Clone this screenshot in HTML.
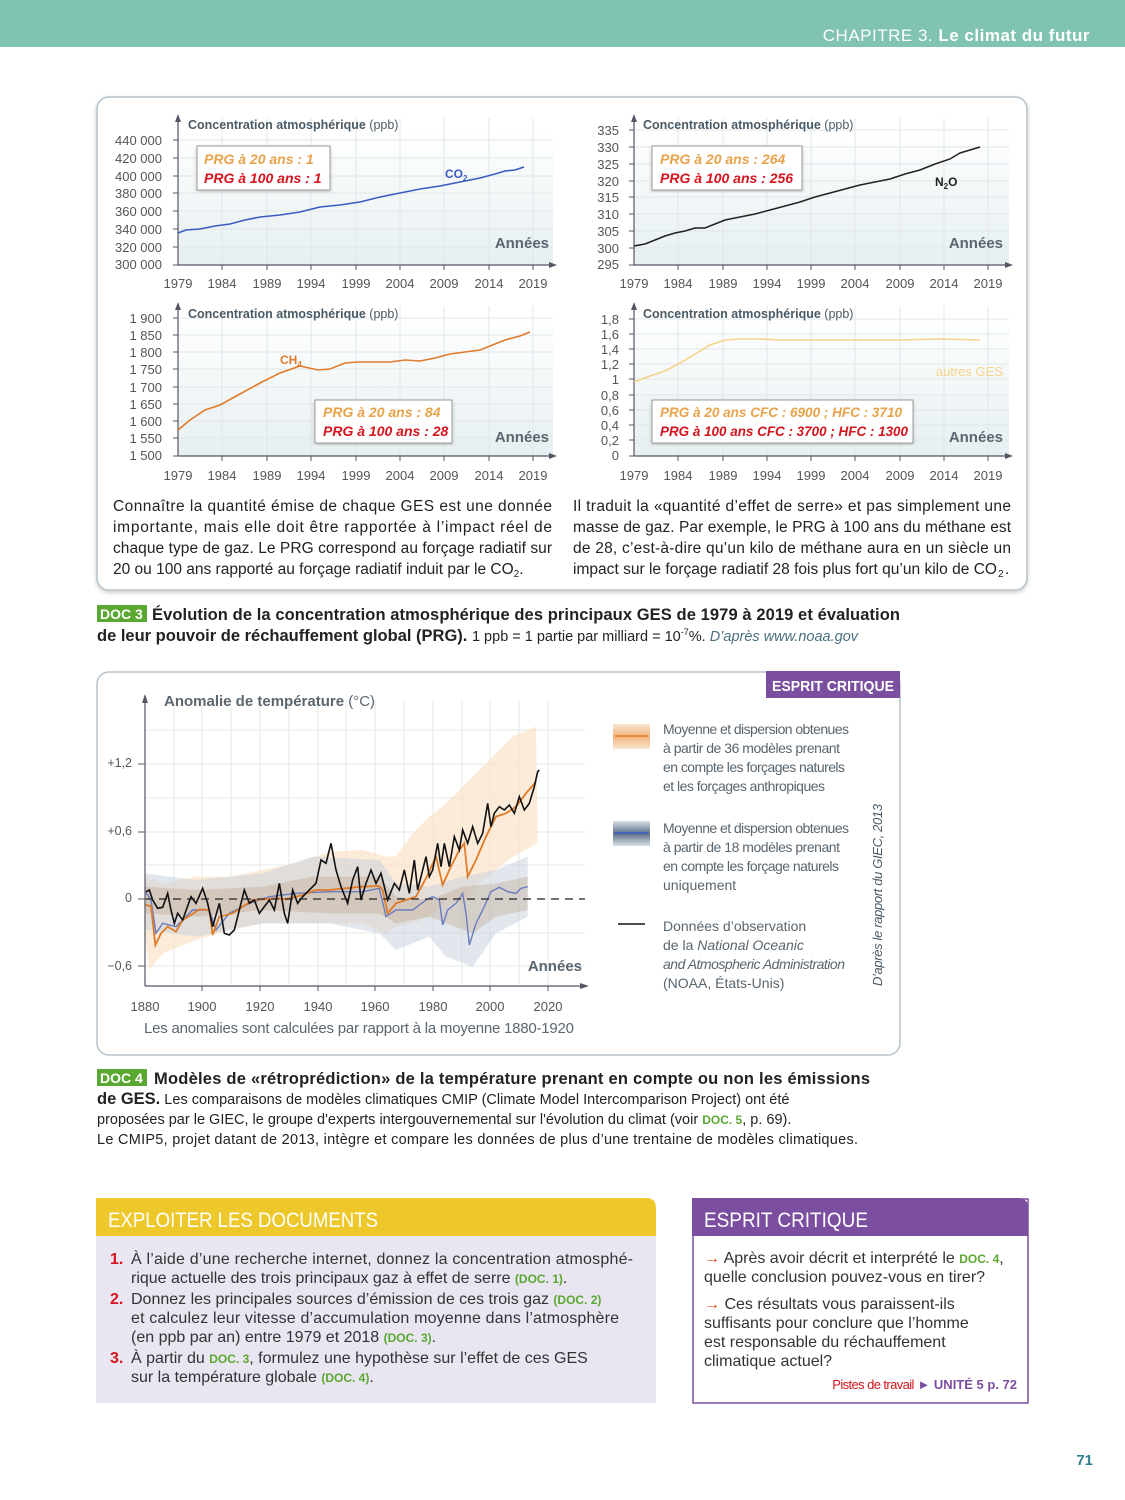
<!DOCTYPE html>
<html><head><meta charset="utf-8"><style>
html,body{margin:0;padding:0;background:#fff}
svg{display:block}
text{font-family:"Liberation Sans",sans-serif}
.yl{font-size:13px;fill:#555;text-anchor:end}
.xl{font-size:13px;fill:#555;text-anchor:middle}
.ct{font-size:12.5px;fill:#4a5a66;font-weight:bold}
.an{font-size:15px;fill:#5a6670;font-weight:bold;text-anchor:end}
.p1{font-size:14px;font-style:italic;font-weight:bold;fill:#e8a24a}
.p2{font-size:14px;font-style:italic;font-weight:bold;fill:#d4141e}
.para{font-size:15.5px;fill:#222}
.lg{font-size:14px;fill:#59656e}
.q{font-size:16px;fill:#333}
.g{fill:#5aa832;font-weight:bold;font-size:12px}
</style></head><body>
<svg width="1125" height="1500" viewBox="0 0 1125 1500" xmlns="http://www.w3.org/2000/svg">
<defs>
<linearGradient id="bg" x1="0" y1="0" x2="0" y2="1"><stop offset="0" stop-color="#fff"/><stop offset="1" stop-color="#e6eff1"/></linearGradient>
<linearGradient id="lo" x1="0" y1="0" x2="0" y2="1"><stop offset="0" stop-color="#fbe6d0"/><stop offset=".5" stop-color="#f2b47c"/><stop offset="1" stop-color="#fbe6d0"/></linearGradient>
<linearGradient id="lb" x1="0" y1="0" x2="0" y2="1"><stop offset="0" stop-color="#d8e0e8"/><stop offset=".5" stop-color="#5c7088"/><stop offset="1" stop-color="#d8e0e8"/></linearGradient>
<filter id="sh" x="-5%" y="-5%" width="110%" height="110%"><feDropShadow dx="0" dy="2" stdDeviation="2" flood-color="#999" flood-opacity=".5"/></filter>
</defs>
<rect x="0" y="0" width="1125" height="47" fill="#7fc3b0"/>
<text x="1090" y="41" text-anchor="end" style="font-size:17px;fill:#fff;letter-spacing:.5px">CHAPITRE 3. <tspan font-weight="bold">Le climat du futur</tspan></text>

<rect x="97" y="97" width="930" height="493" rx="12" fill="#fff" stroke="#b8c4cc" stroke-width="1.5" filter="url(#sh)"/>

<!-- TL chart -->
<g>
<rect x="178" y="130" width="375" height="135" fill="url(#bg)"/>
<g stroke="#e2e6e8" stroke-width="1">
<path d="M222 118V265M267 118V265M311 118V265M356 118V265M400 118V265M444 118V265M489 118V265M533 118V265"/>
<path d="M178 140H553M178 158H553M178 176H553M178 193H553M178 211H553M178 229H553M178 247H553"/>
</g>
<path d="M178 265V118M553 265H178" stroke="#556" stroke-width="1.2" fill="none"/>
<path d="M175 122L178 114L181 122Z M549 262L557 265L549 268Z" fill="#556"/>
<g stroke="#556"><path d="M173 140H178M173 158H178M173 176H178M173 193H178M173 211H178M173 229H178M173 247H178M173 265H178M222 265V270M267 265V270M311 265V270M356 265V270M400 265V270M444 265V270M489 265V270M533 265V270"/></g>
<text class="yl" x="162" y="145">440 000</text><text class="yl" x="162" y="163">420 000</text><text class="yl" x="162" y="181">400 000</text><text class="yl" x="162" y="198">380 000</text><text class="yl" x="162" y="216">360 000</text><text class="yl" x="162" y="234">340 000</text><text class="yl" x="162" y="252">320 000</text><text class="yl" x="162" y="269">300 000</text>
<text class="xl" x="178" y="288">1979</text><text class="xl" x="222" y="288">1984</text><text class="xl" x="267" y="288">1989</text><text class="xl" x="311" y="288">1994</text><text class="xl" x="356" y="288">1999</text><text class="xl" x="400" y="288">2004</text><text class="xl" x="444" y="288">2009</text><text class="xl" x="489" y="288">2014</text><text class="xl" x="533" y="288">2019</text>
<text class="ct" x="188" y="129">Concentration atmosphérique <tspan font-weight="normal">(ppb)</tspan></text>
<path d="M178 233L186 230L200 229L215 226L230 224L245 220L260 217L280 215L300 212L320 207L340 205L360 202L380 197L400 193L420 189L440 186L460 182L480 178L495 174L505 171L515 170L524 167" stroke="#3a5cc0" stroke-width="1.6" fill="none"/>
<text x="445" y="178" style="font-size:12px;font-weight:bold;fill:#3a5cc0">CO<tspan font-size="8" dy="3">2</tspan></text>
<text class="an" x="549" y="248">Années</text>
<rect x="197" y="146" width="133" height="44" fill="#fff" stroke="#999" filter="url(#sh)"/>
<text class="p1" x="204" y="164">PRG à 20 ans : 1</text><text class="p2" x="204" y="183">PRG à 100 ans : 1</text>
</g>

<!-- TR chart -->
<g>
<rect x="634" y="126" width="375" height="139" fill="url(#bg)"/>
<g stroke="#e2e6e8"><path d="M678 118V265M723 118V265M767 118V265M811 118V265M855 118V265M900 118V265M944 118V265M988 118V265"/>
<path d="M634 130H1009M634 147H1009M634 164H1009M634 181H1009M634 197H1009M634 214H1009M634 231H1009M634 248H1009"/></g>
<path d="M634 265V118M1009 265H634" stroke="#556" stroke-width="1.2" fill="none"/>
<path d="M631 122L634 114L637 122Z M1005 262L1013 265L1005 268Z" fill="#556"/>
<g stroke="#556"><path d="M629 130H634M629 147H634M629 164H634M629 181H634M629 197H634M629 214H634M629 231H634M629 248H634M629 265H634M678 265V270M723 265V270M767 265V270M811 265V270M855 265V270M900 265V270M944 265V270M988 265V270"/></g>
<text class="yl" x="619" y="135">335</text><text class="yl" x="619" y="152">330</text><text class="yl" x="619" y="169">325</text><text class="yl" x="619" y="186">320</text><text class="yl" x="619" y="202">315</text><text class="yl" x="619" y="219">310</text><text class="yl" x="619" y="236">305</text><text class="yl" x="619" y="253">300</text><text class="yl" x="619" y="269">295</text>
<text class="xl" x="634" y="288">1979</text><text class="xl" x="678" y="288">1984</text><text class="xl" x="723" y="288">1989</text><text class="xl" x="767" y="288">1994</text><text class="xl" x="811" y="288">1999</text><text class="xl" x="855" y="288">2004</text><text class="xl" x="900" y="288">2009</text><text class="xl" x="944" y="288">2014</text><text class="xl" x="988" y="288">2019</text>
<text class="ct" x="643" y="129">Concentration atmosphérique <tspan font-weight="normal">(ppb)</tspan></text>
<path d="M634 246L645 244L655 240L665 236L675 233L685 231L695 228L705 228L715 224L725 220L740 217L755 214L770 210L785 206L800 202L815 197L830 193L845 189L860 185L875 182L890 179L905 174L920 170L935 164L950 159L960 153L970 150L980 147" stroke="#222" stroke-width="1.5" fill="none"/>
<text x="935" y="186" style="font-size:12px;font-weight:bold;fill:#222">N<tspan font-size="8" dy="3">2</tspan><tspan dy="-3">O</tspan></text>
<text class="an" x="1003" y="248">Années</text>
<rect x="652" y="146" width="150" height="44" fill="#fff" stroke="#999" filter="url(#sh)"/>
<text class="p1" x="660" y="164">PRG à 20 ans : 264</text><text class="p2" x="660" y="183">PRG à 100 ans : 256</text>
</g>

<!-- BL chart -->
<g>
<rect x="178" y="318" width="375" height="138" fill="url(#bg)"/>
<g stroke="#e2e6e8"><path d="M222 306V456M267 306V456M311 306V456M356 306V456M400 306V456M444 306V456M489 306V456M533 306V456"/>
<path d="M178 318H553M178 335H553M178 352H553M178 369H553M178 387H553M178 404H553M178 421H553M178 438H553"/></g>
<path d="M178 456V306M553 456H178" stroke="#556" stroke-width="1.2" fill="none"/>
<path d="M175 310L178 302L181 310Z M549 453L557 456L549 459Z" fill="#556"/>
<g stroke="#556"><path d="M173 318H178M173 335H178M173 352H178M173 369H178M173 387H178M173 404H178M173 421H178M173 438H178M173 456H178M222 456V461M267 456V461M311 456V461M356 456V461M400 456V461M444 456V461M489 456V461M533 456V461"/></g>
<text class="yl" x="162" y="323">1 900</text><text class="yl" x="162" y="340">1 850</text><text class="yl" x="162" y="357">1 800</text><text class="yl" x="162" y="374">1 750</text><text class="yl" x="162" y="392">1 700</text><text class="yl" x="162" y="409">1 650</text><text class="yl" x="162" y="426">1 600</text><text class="yl" x="162" y="443">1 550</text><text class="yl" x="162" y="460">1 500</text>
<text class="xl" x="178" y="480">1979</text><text class="xl" x="222" y="480">1984</text><text class="xl" x="267" y="480">1989</text><text class="xl" x="311" y="480">1994</text><text class="xl" x="356" y="480">1999</text><text class="xl" x="400" y="480">2004</text><text class="xl" x="444" y="480">2009</text><text class="xl" x="489" y="480">2014</text><text class="xl" x="533" y="480">2019</text>
<text class="ct" x="188" y="318">Concentration atmosphérique <tspan font-weight="normal">(ppb)</tspan></text>
<path d="M178 430L190 420L205 410L220 405L240 394L260 383L280 373L300 366L318 370L330 369L345 363L358 362L375 362L390 362L405 360L420 361L435 358L450 354L465 352L480 350L495 344L505 340L520 336L530 332" stroke="#e07b2a" stroke-width="1.6" fill="none"/>
<text x="280" y="364" style="font-size:12px;font-weight:bold;fill:#e07b2a">CH<tspan font-size="8" dy="3">4</tspan></text>
<text class="an" x="549" y="442">Années</text>
<rect x="315" y="400" width="137" height="43" fill="#fff" stroke="#999" filter="url(#sh)"/>
<text class="p1" x="323" y="417">PRG à 20 ans : 84</text><text class="p2" x="323" y="436">PRG à 100 ans : 28</text>
</g>

<!-- BR chart -->
<g>
<rect x="634" y="319" width="375" height="137" fill="url(#bg)"/>
<g stroke="#e2e6e8"><path d="M678 306V456M723 306V456M767 306V456M811 306V456M855 306V456M900 306V456M944 306V456M988 306V456"/>
<path d="M634 319H1009M634 334H1009M634 349H1009M634 364H1009M634 379H1009M634 395H1009M634 410H1009M634 425H1009M634 440H1009"/></g>
<path d="M634 456V306M1009 456H634" stroke="#556" stroke-width="1.2" fill="none"/>
<path d="M631 310L634 302L637 310Z M1005 453L1013 456L1005 459Z" fill="#556"/>
<g stroke="#556"><path d="M629 319H634M629 334H634M629 349H634M629 364H634M629 379H634M629 395H634M629 410H634M629 425H634M629 440H634M629 456H634M678 456V461M723 456V461M767 456V461M811 456V461M855 456V461M900 456V461M944 456V461M988 456V461"/></g>
<text class="yl" x="619" y="324">1,8</text><text class="yl" x="619" y="339">1,6</text><text class="yl" x="619" y="354">1,4</text><text class="yl" x="619" y="369">1,2</text><text class="yl" x="619" y="384">1</text><text class="yl" x="619" y="400">0,8</text><text class="yl" x="619" y="415">0,6</text><text class="yl" x="619" y="430">0,4</text><text class="yl" x="619" y="445">0,2</text><text class="yl" x="619" y="460">0</text>
<text class="xl" x="634" y="480">1979</text><text class="xl" x="678" y="480">1984</text><text class="xl" x="723" y="480">1989</text><text class="xl" x="767" y="480">1994</text><text class="xl" x="811" y="480">1999</text><text class="xl" x="855" y="480">2004</text><text class="xl" x="900" y="480">2009</text><text class="xl" x="944" y="480">2014</text><text class="xl" x="988" y="480">2019</text>
<text class="ct" x="643" y="318">Concentration atmosphérique <tspan font-weight="normal">(ppb)</tspan></text>
<path d="M634 382L650 376L665 371L680 363L695 354L710 345L725 340L740 339L760 339L780 340L830 340L900 340L940 339L980 340" stroke="#f5d48a" stroke-width="1.6" fill="none"/>
<text x="1003" y="376" text-anchor="end" style="font-size:13px;fill:#f5d48a">autres GES</text>
<text class="an" x="1003" y="442">Années</text>
<rect x="652" y="400" width="261" height="43" fill="#fff" stroke="#999" filter="url(#sh)"/>
<text class="p1" x="660" y="417" textLength="242" lengthAdjust="spacingAndGlyphs">PRG à 20 ans CFC : 6900 ; HFC : 3710</text><text class="p2" x="660" y="436" textLength="248" lengthAdjust="spacingAndGlyphs">PRG à 100 ans CFC : 3700 ; HFC : 1300</text>
</g>

<text class="para" x="113" y="511" textLength="439">Connaître la quantité émise de chaque GES est une donnée</text>
<text class="para" x="113" y="532" textLength="439">importante, mais elle doit être rapportée à l’impact réel de</text>
<text class="para" x="113" y="553" textLength="439">chaque type de gaz. Le PRG correspond au forçage radiatif sur</text>
<text class="para" x="113" y="574">20 ou 100 ans rapporté au forçage radiatif induit par le CO<tspan font-size="10" dy="3">2</tspan><tspan dy="-3">.</tspan></text>
<text class="para" x="573" y="511" textLength="438">Il traduit la «quantité d’effet de serre» et pas simplement une</text>
<text class="para" x="573" y="532" textLength="438">masse de gaz. Par exemple, le PRG à 100 ans du méthane est</text>
<text class="para" x="573" y="553" textLength="438">de 28, c’est-à-dire qu’un kilo de méthane aura en un siècle un</text>
<text class="para" x="573" y="574" textLength="424" lengthAdjust="spacingAndGlyphs">impact sur le forçage radiatif 28 fois plus fort qu’un kilo de CO</text><text x="998" y="577" style="font-size:10px;fill:#222">2</text><text class="para" x="1005" y="574">.</text>

<rect x="97" y="605" width="50" height="17" fill="#5aa832"/>
<text x="100" y="619" style="font-size:14px;font-weight:bold;fill:#fff">DOC 3</text>
<text x="152" y="620" textLength="748" style="font-size:16.5px;font-weight:bold;fill:#222">Évolution de la concentration atmosphérique des principaux GES de 1979 à 2019 et évaluation</text>
<text x="97" y="641" style="font-size:16.5px;font-weight:bold;fill:#222">de leur pouvoir de réchauffement global (PRG). <tspan font-weight="normal" font-size="14.5">1 ppb = 1 partie par milliard = 10<tspan font-size="9" dy="-6">-7</tspan><tspan dy="6">%. </tspan><tspan font-style="italic" fill="#4a7080">D’après www.noaa.gov</tspan></tspan></text>

<rect x="97" y="672" width="803" height="383" rx="12" fill="#fff" stroke="#b8c4cc" stroke-width="1.5"/>
<rect x="766" y="671" width="134" height="27" fill="#7b4ea0"/>
<text x="772" y="691" textLength="122" lengthAdjust="spacingAndGlyphs" style="font-size:15px;font-weight:bold;fill:#fff">ESPRIT CRITIQUE</text>

<g>
<g stroke="#e4e8ea"><path d="M174 700V986M202 700V986M231 700V986M260 700V986M289 700V986M318 700V986M346 700V986M375 700V986M404 700V986M433 700V986M462 700V986M490 700V986M519 700V986M548 700V986"/>
<path d="M145 730H585M145 764H585M145 798H585M145 832H585M145 865H585M145 933H585M145 966H585"/></g>
<g transform="translate(96 670) scale(0.33333)">
<path d="M148 620L200 640L300 620L400 620L500 600L600 580L700 545L800 540L870 560L900 560L950 490L1000 440L1050 400L1100 350L1150 300L1200 250L1250 200L1320 170L1325 520L1250 560L1200 600L1150 640L1100 700L1050 690L1000 740L950 760L900 770L870 790L800 760L700 760L600 760L500 760L400 780L300 810L200 850L160 900L148 800Z" fill="#fbe3c8" opacity=".7"/>
<path d="M148 610L300 630L500 610L650 560L850 570L900 640L1000 650L1100 620L1200 600L1295 560L1295 740L1200 790L1130 890L1050 860L1000 800L900 840L850 790L700 760L500 760L300 800L150 780Z" fill="#c4d0dc" opacity=".5"/>
<path d="M148 650L300 660L500 650L650 620L850 620L900 680L1000 690L1100 650L1200 640L1295 620L1295 720L1200 740L1130 790L1050 760L1000 740L900 760L850 730L700 730L500 720L300 740L150 730Z" fill="#b8997a" opacity=".3"/>
<path d="M148 665L165 690L180 790L200 760L240 770L290 720L340 720L360 780L400 730L460 700L520 680L600 670L700 665L800 665L850 655L870 740L900 720L950 720L990 690L1010 680L1030 690L1040 765L1055 720L1080 700L1100 670L1110 730L1120 825L1140 760L1160 720L1185 665L1210 652L1235 665L1260 670L1275 655L1295 650" stroke="#6a7cc0" stroke-width="1.4" fill="none" vector-effect="non-scaling-stroke"/>
<path d="M148 705L165 708L178 825L195 790L215 770L240 785L260 750L285 735L310 718L340 720L350 795L370 740L410 730L440 710L470 690L500 688L540 685L570 688L620 675L660 660L700 660L750 655L800 650L850 648L860 660L875 730L900 700L930 690L960 680L990 625L1020 560L1040 645L1060 600L1090 540L1105 520L1115 620L1140 570L1170 500L1200 440L1230 430L1260 410L1290 370L1320 335" stroke="#e07b2a" stroke-width="1.8" fill="none" vector-effect="non-scaling-stroke"/>
<path d="M150 665L160 660L170 690L185 715L200 712L215 670L225 720L235 760L245 730L260 750L285 680L300 700L320 655L335 700L350 770L370 700L385 790L400 795L415 780L430 720L445 660L460 700L475 690L490 730L505 710L520 690L535 720L550 640L565 730L575 760L590 660L605 700L620 680L640 660L660 640L675 570L690 580L705 520L720 600L735 650L755 700L770 630L785 590L795 690L810 640L825 600L840 640L855 610L875 690L895 640L910 660L925 600L940 670L955 570L965 660L975 620L990 560L1000 620L1010 600L1025 520L1035 590L1045 520L1060 590L1075 500L1090 540L1100 480L1115 520L1130 470L1145 520L1160 490L1175 400L1185 470L1195 430L1210 410L1225 420L1240 405L1255 430L1270 380L1285 420L1300 400L1315 350L1325 305L1330 300" stroke="#111" stroke-width="1.6" fill="none" vector-effect="non-scaling-stroke"/>
</g>
<path d="M145 899H585" stroke="#222" stroke-width="1.3" stroke-dasharray="8 6"/>
<path d="M145 986V698M584 986H145" stroke="#556" stroke-width="1.2" fill="none"/>
<path d="M142 703L145 694L148 703Z M580 983L589 986L580 989Z" fill="#556"/>
<g stroke="#556"><path d="M138 764H145M138 832H145M138 899H145M138 966H145M202 986V991M260 986V991M318 986V991M375 986V991M433 986V991M490 986V991M548 986V991"/></g>
<text x="132" y="767" style="font-size:12.5px;fill:#555;text-anchor:end">+1,2</text>
<text x="132" y="835" style="font-size:12.5px;fill:#555;text-anchor:end">+0,6</text>
<text x="132" y="902" style="font-size:12.5px;fill:#555;text-anchor:end">0</text>
<text x="132" y="970" style="font-size:12.5px;fill:#555;text-anchor:end">−0,6</text>
<g style="font-size:13px;fill:#555;text-anchor:middle"><text x="145" y="1011">1880</text><text x="202" y="1011">1900</text><text x="260" y="1011">1920</text><text x="318" y="1011">1940</text><text x="375" y="1011">1960</text><text x="433" y="1011">1980</text><text x="490" y="1011">2000</text><text x="548" y="1011">2020</text></g>
<text x="164" y="706" style="font-size:15px;font-weight:bold;fill:#5a6670">Anomalie de température <tspan font-weight="normal">(°C)</tspan></text>
<text x="582" y="971" class="an">Années</text>
<text x="144" y="1033" textLength="430" style="font-size:15px;fill:#5a6670">Les anomalies sont calculées par rapport à la moyenne 1880-1920</text>
</g>
<rect x="613" y="724" width="37" height="25" fill="url(#lo)"/><path d="M615 736H648" stroke="#e07b2a" stroke-width="1.5"/>
<rect x="613" y="821" width="37" height="25" fill="url(#lb)"/><path d="M615 833H648" stroke="#3a5cc0" stroke-width="1.5"/>
<path d="M618 924H645" stroke="#111" stroke-width="1.5"/>
<text x="663" y="734" class="lg" textLength="186">Moyenne et dispersion obtenues</text>
<text x="663" y="753" class="lg" textLength="177">à partir de 36 modèles prenant</text>
<text x="663" y="772" class="lg" textLength="182">en compte les forçages naturels</text>
<text x="663" y="791" class="lg" textLength="162">et les forçages anthropiques</text>
<text x="663" y="833" class="lg" textLength="186">Moyenne et dispersion obtenues</text>
<text x="663" y="852" class="lg" textLength="177">à partir de 18 modèles prenant</text>
<text x="663" y="871" class="lg" textLength="176">en compte les forçage naturels</text>
<text x="663" y="890" class="lg">uniquement</text>
<text x="663" y="931" class="lg">Données d’observation</text>
<text x="663" y="950" class="lg">de la <tspan font-style="italic">National Oceanic</tspan></text>
<text x="663" y="969" class="lg" font-style="italic" textLength="182">and Atmospheric Administration</text>
<text x="663" y="988" class="lg">(NOAA, États-Unis)</text>
<text transform="translate(882 986) rotate(-90)" textLength="182" style="font-size:13px;font-style:italic;fill:#4a5a66">D’après le rapport du GIEC, 2013</text>

<rect x="97" y="1069" width="50" height="17" fill="#5aa832"/>
<text x="100" y="1083" style="font-size:14px;font-weight:bold;fill:#fff">DOC 4</text>
<text x="154" y="1084" textLength="716" style="font-size:16.5px;font-weight:bold;fill:#222">Modèles de «rétroprédiction» de la température prenant en compte ou non les émissions</text>
<text x="97" y="1104" style="font-size:14.5px;fill:#222"><tspan font-weight="bold" font-size="16.5">de GES.</tspan> Les comparaisons de modèles climatiques CMIP (Climate Model Intercomparison Project) ont été</text>
<text x="97" y="1124" style="font-size:14.5px;fill:#222">proposées par le GIEC, le groupe d'experts intergouvernemental sur l'évolution du climat (voir <tspan class="g">DOC. 5</tspan>, p. 69).</text>
<text x="97" y="1144" textLength="761" style="font-size:14.5px;fill:#222">Le CMIP5, projet datant de 2013, intègre et compare les données de plus d’une trentaine de modèles climatiques.</text>

<rect x="96" y="1236" width="560" height="167" fill="#e9e5f1"/>
<path d="M96 1236V1198H646Q656 1198 656 1208V1236Z" fill="#eec82a"/>
<text x="108" y="1227" textLength="270" lengthAdjust="spacingAndGlyphs" style="font-size:21px;fill:#fff">EXPLOITER LES DOCUMENTS</text>
<text x="110" y="1264" class="q" fill="#d4141e" font-weight="bold" style="fill:#d4141e">1.</text>
<text x="131" y="1264" class="q" textLength="502">À l’aide d’une recherche internet, donnez la concentration atmosphé-</text>
<text x="131" y="1283" class="q">rique actuelle des trois principaux gaz à effet de serre <tspan class="g">(DOC. 1)</tspan>.</text>
<text x="110" y="1304" class="q" font-weight="bold" style="fill:#d4141e">2.</text>
<text x="131" y="1304" class="q">Donnez les principales sources d’émission de ces trois gaz <tspan class="g">(DOC. 2)</tspan></text>
<text x="131" y="1323" class="q" textLength="488">et calculez leur vitesse d’accumulation moyenne dans l’atmosphère</text>
<text x="131" y="1342" class="q">(en ppb par an) entre 1979 et 2018 <tspan class="g">(DOC. 3)</tspan>.</text>
<text x="110" y="1363" class="q" font-weight="bold" style="fill:#d4141e">3.</text>
<text x="131" y="1363" class="q">À partir du <tspan class="g">DOC. 3</tspan>, formulez une hypothèse sur l’effet de ces GES</text>
<text x="131" y="1382" class="q">sur la température globale <tspan class="g">(DOC. 4)</tspan>.</text>

<rect x="693" y="1199" width="335" height="204" fill="#fff" stroke="#7b4ea0" stroke-width="1.5"/>
<path d="M692 1236V1198H1018Q1028 1198 1028 1208V1236Z" fill="#7b4ea0"/>
<text x="704" y="1227" textLength="164" lengthAdjust="spacingAndGlyphs" style="font-size:21px;fill:#fff">ESPRIT CRITIQUE</text>
<text x="704" y="1263" class="q"><tspan fill="#e04a1e" font-weight="bold">→</tspan> Après avoir décrit et interprété le <tspan class="g">DOC. 4</tspan>,</text>
<text x="704" y="1282" class="q">quelle conclusion pouvez-vous en tirer?</text>
<text x="704" y="1309" class="q"><tspan fill="#e04a1e" font-weight="bold">→</tspan> Ces résultats vous paraissent-ils</text>
<text x="704" y="1328" class="q">suffisants pour conclure que l’homme</text>
<text x="704" y="1347" class="q">est responsable du réchauffement</text>
<text x="704" y="1366" class="q">climatique actuel?</text>
<text x="1017" y="1389" text-anchor="end" style="font-size:13px;fill:#d4141e"><tspan letter-spacing="-.6">Pistes de travail</tspan> <tspan fill="#7b4ea0">► </tspan><tspan fill="#7b4ea0" font-weight="bold">UNITÉ 5 p. 72</tspan></text>

<text x="1093" y="1465" text-anchor="end" style="font-size:15px;font-weight:bold;fill:#2f7d8c">71</text>
</svg>
</body></html>
